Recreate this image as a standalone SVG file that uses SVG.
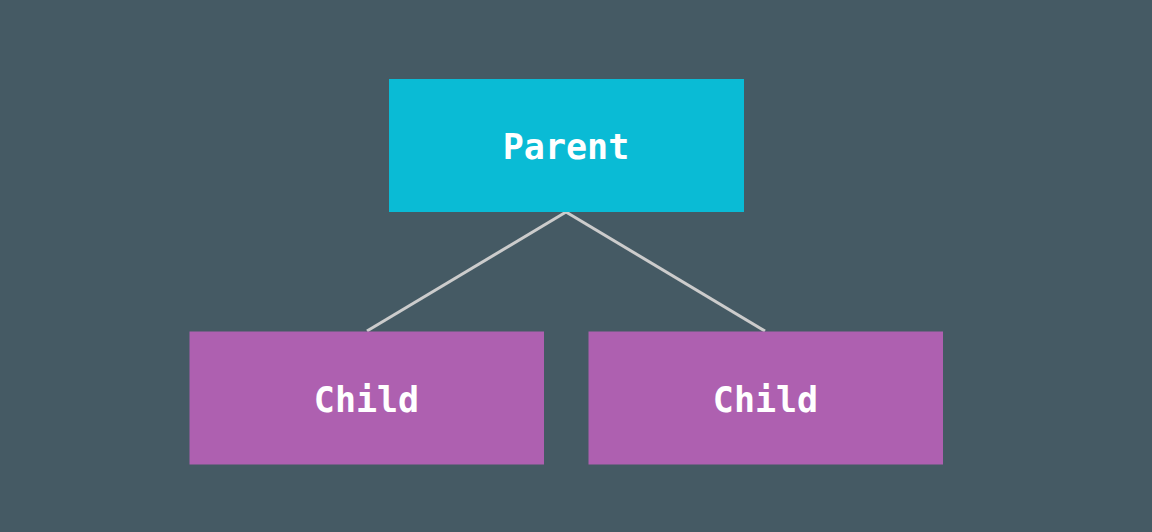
<svg xmlns="http://www.w3.org/2000/svg" width="1152" height="532" viewBox="0 0 1152 532">
  <style>
    .label { font-family: "DejaVu Sans Mono", "Liberation Mono", monospace; font-size: 35px; font-weight: bold; fill: #ffffff; text-anchor: middle; }
    .edge { stroke: #cccccc; stroke-width: 3; fill: none; }
    .parent { fill: #0abbd5; }
    .child { fill: #ae60b0; }
  </style>
  <rect width="1152" height="532" fill="#455a64"/>
  <g id="connectors">
    <path class="edge" d="M566 212 L367 331"/>
    <path class="edge" d="M566 212 L765 331"/>
  </g>
  <g id="parent">
    <rect class="parent" x="389" y="79" width="355" height="133"/>
    <text class="label" x="566" y="159">Parent</text>
  </g>
  <g id="child-left">
    <rect class="child" x="189.5" y="331.5" width="354.5" height="133"/>
    <text class="label" x="366.5" y="411.5">Child</text>
  </g>
  <g id="child-right">
    <rect class="child" x="588.5" y="331.5" width="354.5" height="133"/>
    <text class="label" x="765.5" y="411.5">Child</text>
  </g>
</svg>
